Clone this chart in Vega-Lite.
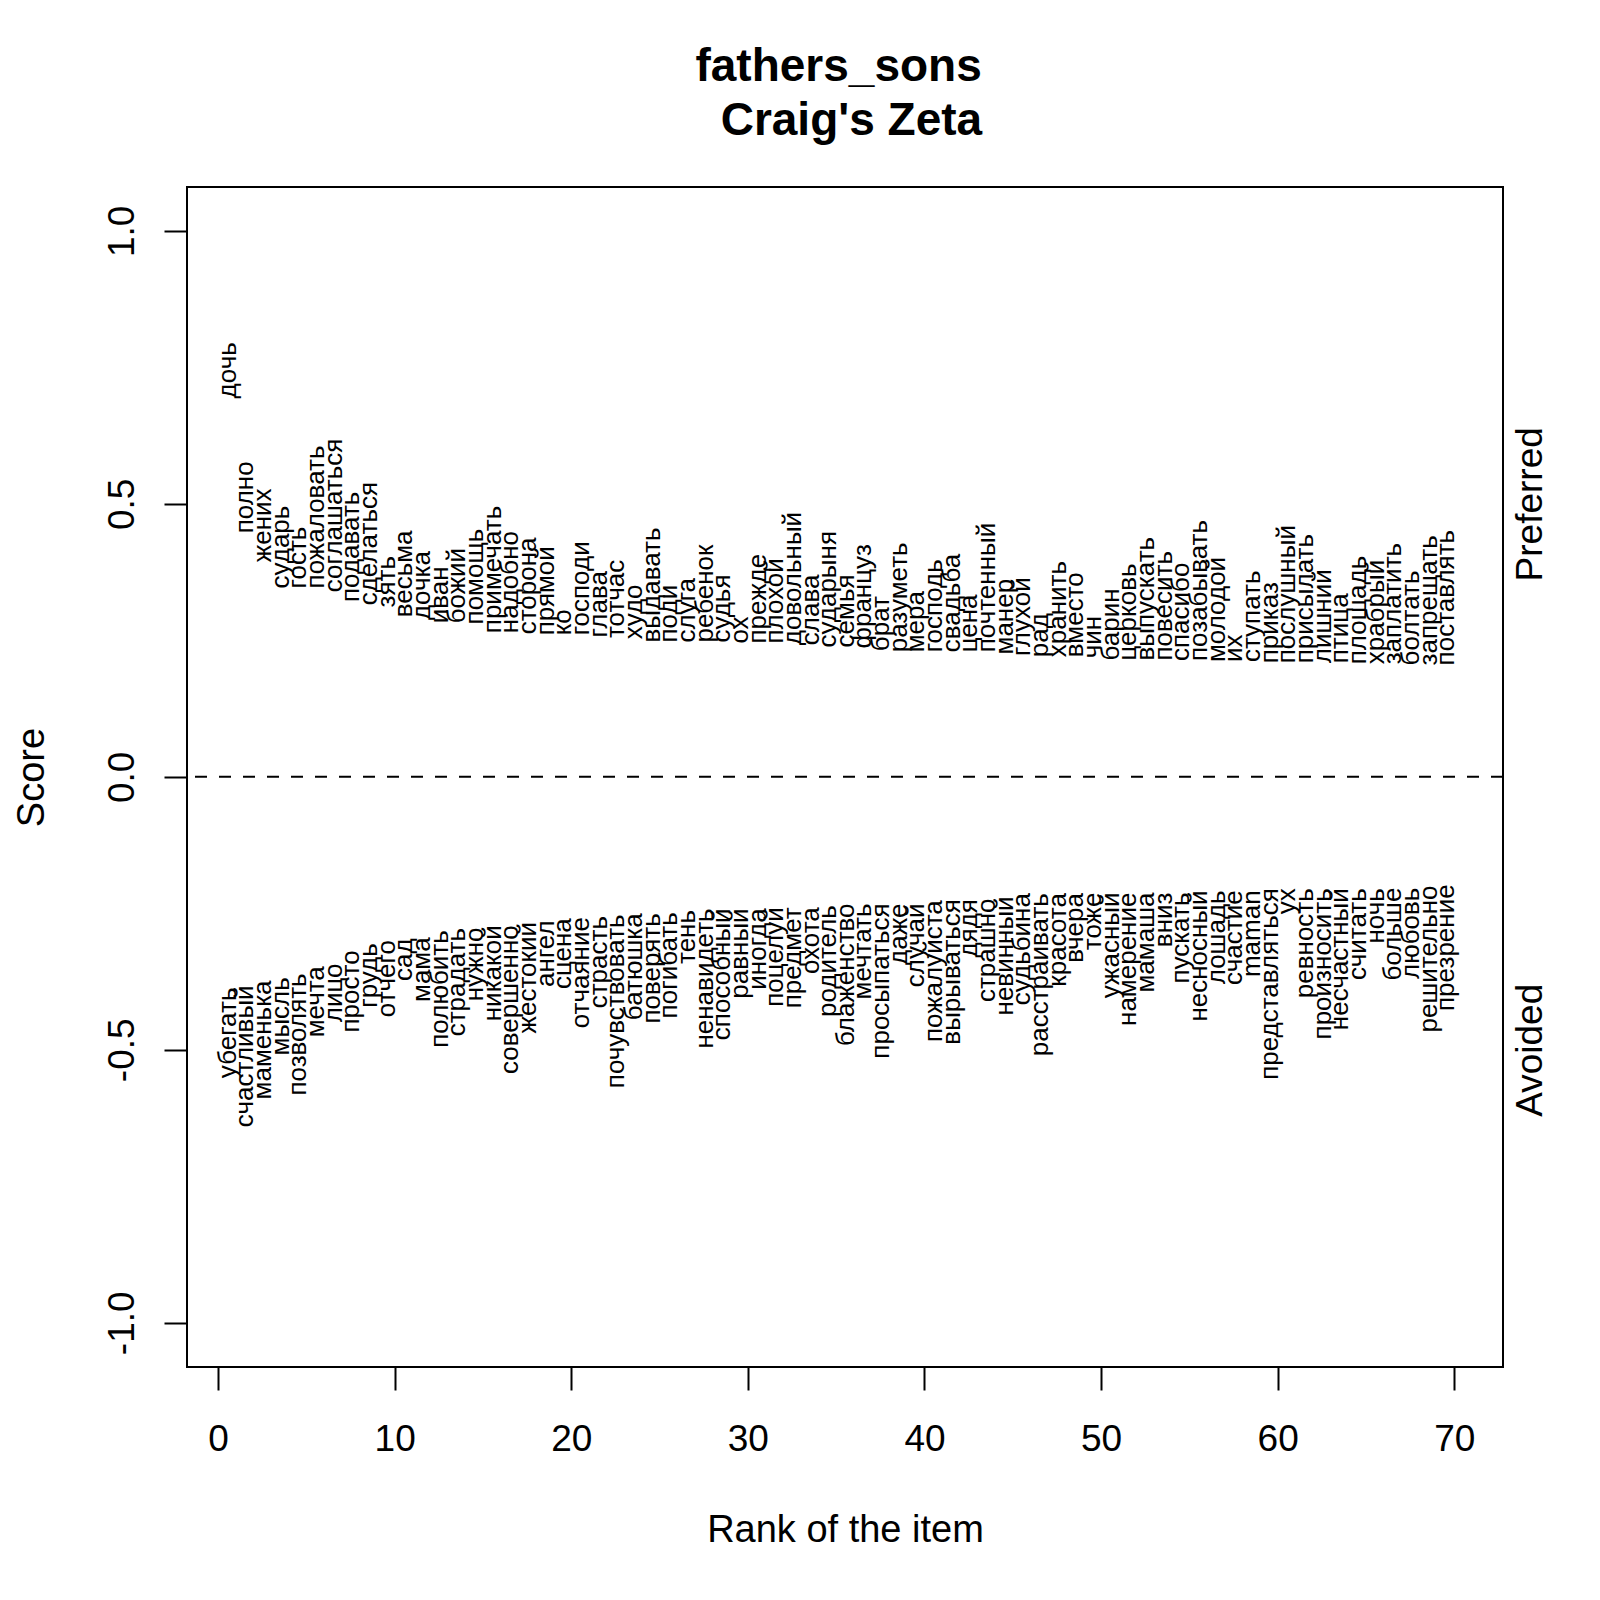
{
  "$schema": "https://vega.github.io/schema/vega-lite/v6.json",
  "autosize": {"type": "none"},
  "padding": {"left": 187, "top": 187, "right": 97, "bottom": 233},
  "width": 1316,
  "height": 1180,
  "background": "white",
  "title": {
    "text": ["fathers_sons \u200b", "\u200b Craig's Zeta"],
    "fontSize": 46,
    "fontWeight": "bold",
    "color": "black",
    "anchor": "middle",
    "frame": "group",
    "baseline": "bottom",
    "lineHeight": 54,
    "offset": 41,
    "dy": 45
  },
  "data": {
    "values": [
      {"rank": 1, "word": "дочь", "score": 0.693, "side": "Preferred"},
      {"rank": 2, "word": "полно", "score": 0.446, "side": "Preferred"},
      {"rank": 3, "word": "жених", "score": 0.393, "side": "Preferred"},
      {"rank": 4, "word": "сударь", "score": 0.345, "side": "Preferred"},
      {"rank": 5, "word": "гость", "score": 0.345, "side": "Preferred"},
      {"rank": 6, "word": "пожаловать", "score": 0.345, "side": "Preferred"},
      {"rank": 7, "word": "соглашаться", "score": 0.338, "side": "Preferred"},
      {"rank": 8, "word": "подавать", "score": 0.320, "side": "Preferred"},
      {"rank": 9, "word": "сделаться", "score": 0.314, "side": "Preferred"},
      {"rank": 10, "word": "зять", "score": 0.310, "side": "Preferred"},
      {"rank": 11, "word": "весьма", "score": 0.292, "side": "Preferred"},
      {"rank": 12, "word": "дочка", "score": 0.287, "side": "Preferred"},
      {"rank": 13, "word": "иван", "score": 0.281, "side": "Preferred"},
      {"rank": 14, "word": "божий", "score": 0.281, "side": "Preferred"},
      {"rank": 15, "word": "помощь", "score": 0.279, "side": "Preferred"},
      {"rank": 16, "word": "примечать", "score": 0.263, "side": "Preferred"},
      {"rank": 17, "word": "надобно", "score": 0.263, "side": "Preferred"},
      {"rank": 18, "word": "сторона", "score": 0.261, "side": "Preferred"},
      {"rank": 19, "word": "прямой", "score": 0.259, "side": "Preferred"},
      {"rank": 20, "word": "ко", "score": 0.259, "side": "Preferred"},
      {"rank": 21, "word": "господи", "score": 0.259, "side": "Preferred"},
      {"rank": 22, "word": "глава", "score": 0.255, "side": "Preferred"},
      {"rank": 23, "word": "тотчас", "score": 0.254, "side": "Preferred"},
      {"rank": 24, "word": "худо", "score": 0.252, "side": "Preferred"},
      {"rank": 25, "word": "выдавать", "score": 0.246, "side": "Preferred"},
      {"rank": 26, "word": "поди", "score": 0.246, "side": "Preferred"},
      {"rank": 27, "word": "слуга", "score": 0.246, "side": "Preferred"},
      {"rank": 28, "word": "ребенок", "score": 0.246, "side": "Preferred"},
      {"rank": 29, "word": "судья", "score": 0.246, "side": "Preferred"},
      {"rank": 30, "word": "ох", "score": 0.244, "side": "Preferred"},
      {"rank": 31, "word": "прежде", "score": 0.244, "side": "Preferred"},
      {"rank": 32, "word": "плохой", "score": 0.244, "side": "Preferred"},
      {"rank": 33, "word": "довольный", "score": 0.241, "side": "Preferred"},
      {"rank": 34, "word": "слава", "score": 0.241, "side": "Preferred"},
      {"rank": 35, "word": "сударыня", "score": 0.237, "side": "Preferred"},
      {"rank": 36, "word": "семья", "score": 0.237, "side": "Preferred"},
      {"rank": 37, "word": "француз", "score": 0.235, "side": "Preferred"},
      {"rank": 38, "word": "брат", "score": 0.230, "side": "Preferred"},
      {"rank": 39, "word": "разуметь", "score": 0.228, "side": "Preferred"},
      {"rank": 40, "word": "мера", "score": 0.228, "side": "Preferred"},
      {"rank": 41, "word": "господь", "score": 0.228, "side": "Preferred"},
      {"rank": 42, "word": "свадьба", "score": 0.228, "side": "Preferred"},
      {"rank": 43, "word": "цена", "score": 0.228, "side": "Preferred"},
      {"rank": 44, "word": "почтенный", "score": 0.228, "side": "Preferred"},
      {"rank": 45, "word": "манер", "score": 0.224, "side": "Preferred"},
      {"rank": 46, "word": "глухой", "score": 0.221, "side": "Preferred"},
      {"rank": 47, "word": "рад", "score": 0.219, "side": "Preferred"},
      {"rank": 48, "word": "хранить", "score": 0.219, "side": "Preferred"},
      {"rank": 49, "word": "вместо", "score": 0.219, "side": "Preferred"},
      {"rank": 50, "word": "чин", "score": 0.217, "side": "Preferred"},
      {"rank": 51, "word": "барин", "score": 0.213, "side": "Preferred"},
      {"rank": 52, "word": "церковь", "score": 0.213, "side": "Preferred"},
      {"rank": 53, "word": "выпускать", "score": 0.213, "side": "Preferred"},
      {"rank": 54, "word": "повесить", "score": 0.213, "side": "Preferred"},
      {"rank": 55, "word": "спасибо", "score": 0.212, "side": "Preferred"},
      {"rank": 56, "word": "позабывать", "score": 0.212, "side": "Preferred"},
      {"rank": 57, "word": "молодой", "score": 0.210, "side": "Preferred"},
      {"rank": 58, "word": "их", "score": 0.210, "side": "Preferred"},
      {"rank": 59, "word": "ступать", "score": 0.210, "side": "Preferred"},
      {"rank": 60, "word": "приказ", "score": 0.208, "side": "Preferred"},
      {"rank": 61, "word": "послушный", "score": 0.208, "side": "Preferred"},
      {"rank": 62, "word": "присылать", "score": 0.208, "side": "Preferred"},
      {"rank": 63, "word": "лишний", "score": 0.208, "side": "Preferred"},
      {"rank": 64, "word": "птица", "score": 0.208, "side": "Preferred"},
      {"rank": 65, "word": "площадь", "score": 0.206, "side": "Preferred"},
      {"rank": 66, "word": "храбрый", "score": 0.206, "side": "Preferred"},
      {"rank": 67, "word": "заплатить", "score": 0.206, "side": "Preferred"},
      {"rank": 68, "word": "болтать", "score": 0.204, "side": "Preferred"},
      {"rank": 69, "word": "запрещать", "score": 0.204, "side": "Preferred"},
      {"rank": 70, "word": "поставлять", "score": 0.204, "side": "Preferred"},
      {"rank": 1, "word": "убегать", "score": -0.386, "side": "Avoided"},
      {"rank": 2, "word": "счастливый", "score": -0.382, "side": "Avoided"},
      {"rank": 3, "word": "маменька", "score": -0.373, "side": "Avoided"},
      {"rank": 4, "word": "мысль", "score": -0.367, "side": "Avoided"},
      {"rank": 5, "word": "позволять", "score": -0.360, "side": "Avoided"},
      {"rank": 6, "word": "мечта", "score": -0.347, "side": "Avoided"},
      {"rank": 7, "word": "лицо", "score": -0.342, "side": "Avoided"},
      {"rank": 8, "word": "просто", "score": -0.318, "side": "Avoided"},
      {"rank": 9, "word": "грудь", "score": -0.305, "side": "Avoided"},
      {"rank": 10, "word": "отчего", "score": -0.299, "side": "Avoided"},
      {"rank": 11, "word": "сад", "score": -0.296, "side": "Avoided"},
      {"rank": 12, "word": "мама", "score": -0.294, "side": "Avoided"},
      {"rank": 13, "word": "полюбить", "score": -0.281, "side": "Avoided"},
      {"rank": 14, "word": "страдать", "score": -0.277, "side": "Avoided"},
      {"rank": 15, "word": "нужно", "score": -0.276, "side": "Avoided"},
      {"rank": 16, "word": "никакой", "score": -0.272, "side": "Avoided"},
      {"rank": 17, "word": "совершенно", "score": -0.272, "side": "Avoided"},
      {"rank": 18, "word": "жестокий", "score": -0.266, "side": "Avoided"},
      {"rank": 19, "word": "ангел", "score": -0.263, "side": "Avoided"},
      {"rank": 20, "word": "сцена", "score": -0.259, "side": "Avoided"},
      {"rank": 21, "word": "отчаяние", "score": -0.257, "side": "Avoided"},
      {"rank": 22, "word": "страсть", "score": -0.255, "side": "Avoided"},
      {"rank": 23, "word": "почувствовать", "score": -0.252, "side": "Avoided"},
      {"rank": 24, "word": "батюшка", "score": -0.250, "side": "Avoided"},
      {"rank": 25, "word": "поверять", "score": -0.250, "side": "Avoided"},
      {"rank": 26, "word": "погибать", "score": -0.248, "side": "Avoided"},
      {"rank": 27, "word": "тень", "score": -0.244, "side": "Avoided"},
      {"rank": 28, "word": "ненавидеть", "score": -0.241, "side": "Avoided"},
      {"rank": 29, "word": "способный", "score": -0.241, "side": "Avoided"},
      {"rank": 30, "word": "равный", "score": -0.241, "side": "Avoided"},
      {"rank": 31, "word": "иногда", "score": -0.241, "side": "Avoided"},
      {"rank": 32, "word": "поцелуй", "score": -0.239, "side": "Avoided"},
      {"rank": 33, "word": "предмет", "score": -0.239, "side": "Avoided"},
      {"rank": 34, "word": "охота", "score": -0.239, "side": "Avoided"},
      {"rank": 35, "word": "родитель", "score": -0.235, "side": "Avoided"},
      {"rank": 36, "word": "блаженство", "score": -0.232, "side": "Avoided"},
      {"rank": 37, "word": "мечтать", "score": -0.232, "side": "Avoided"},
      {"rank": 38, "word": "просыпаться", "score": -0.232, "side": "Avoided"},
      {"rank": 39, "word": "даже", "score": -0.232, "side": "Avoided"},
      {"rank": 40, "word": "случай", "score": -0.232, "side": "Avoided"},
      {"rank": 41, "word": "пожалуйста", "score": -0.226, "side": "Avoided"},
      {"rank": 42, "word": "вырываться", "score": -0.224, "side": "Avoided"},
      {"rank": 43, "word": "дядя", "score": -0.224, "side": "Avoided"},
      {"rank": 44, "word": "страшно", "score": -0.223, "side": "Avoided"},
      {"rank": 45, "word": "невинный", "score": -0.219, "side": "Avoided"},
      {"rank": 46, "word": "судьбина", "score": -0.213, "side": "Avoided"},
      {"rank": 47, "word": "расстраивать", "score": -0.213, "side": "Avoided"},
      {"rank": 48, "word": "красота", "score": -0.213, "side": "Avoided"},
      {"rank": 49, "word": "вчера", "score": -0.213, "side": "Avoided"},
      {"rank": 50, "word": "тоже", "score": -0.212, "side": "Avoided"},
      {"rank": 51, "word": "ужасный", "score": -0.212, "side": "Avoided"},
      {"rank": 52, "word": "намерение", "score": -0.212, "side": "Avoided"},
      {"rank": 53, "word": "мамаша", "score": -0.212, "side": "Avoided"},
      {"rank": 54, "word": "вниз", "score": -0.212, "side": "Avoided"},
      {"rank": 55, "word": "пускать", "score": -0.212, "side": "Avoided"},
      {"rank": 56, "word": "несносный", "score": -0.208, "side": "Avoided"},
      {"rank": 57, "word": "лошадь", "score": -0.208, "side": "Avoided"},
      {"rank": 58, "word": "счастие", "score": -0.208, "side": "Avoided"},
      {"rank": 59, "word": "maman", "score": -0.208, "side": "Avoided"},
      {"rank": 60, "word": "представляться", "score": -0.204, "side": "Avoided"},
      {"rank": 61, "word": "ух", "score": -0.204, "side": "Avoided"},
      {"rank": 62, "word": "ревность", "score": -0.204, "side": "Avoided"},
      {"rank": 63, "word": "произносить", "score": -0.204, "side": "Avoided"},
      {"rank": 64, "word": "несчастный", "score": -0.204, "side": "Avoided"},
      {"rank": 65, "word": "считать", "score": -0.204, "side": "Avoided"},
      {"rank": 66, "word": "ночь", "score": -0.204, "side": "Avoided"},
      {"rank": 67, "word": "больше", "score": -0.203, "side": "Avoided"},
      {"rank": 68, "word": "любовь", "score": -0.203, "side": "Avoided"},
      {"rank": 69, "word": "решительно", "score": -0.199, "side": "Avoided"},
      {"rank": 70, "word": "презрение", "score": -0.197, "side": "Avoided"}
    ]
  },
  "layer": [
    {
      "encoding": {
        "x": {
          "field": "rank",
          "type": "quantitative",
          "scale": {"domain": [-1.76, 72.76], "nice": false, "zero": false},
          "axis": {
            "title": "Rank of the item",
            "values": [0, 10, 20, 30, 40, 50, 60, 70],
            "domain": false,
            "grid": false,
            "tickSize": 23,
            "tickWidth": 2,
            "tickColor": "black",
            "labelFontSize": 37,
            "labelColor": "black",
            "labelPadding": 60,
            "labelBaseline": "alphabetic",
            "labelFlush": false,
            "labelOverlap": false,
            "titleFontSize": 38,
            "titleFontWeight": "normal",
            "titleColor": "black",
            "titleBaseline": "alphabetic",
            "titleY": 174
          }
        },
        "y": {
          "field": "score",
          "type": "quantitative",
          "scale": {"domain": [-1.081, 1.0802], "nice": false, "zero": false},
          "axis": {
            "title": "Score",
            "values": [-1, -0.5, 0, 0.5, 1],
            "labelExpr": "replace(format(datum.value, '.1f'), '\u2212', '-')",
            "domain": false,
            "grid": false,
            "tickSize": 23,
            "tickWidth": 2,
            "tickColor": "black",
            "labelFontSize": 37,
            "labelColor": "black",
            "labelAngle": 270,
            "labelAlign": "center",
            "labelBaseline": "alphabetic",
            "labelPadding": 31,
            "labelOverlap": false,
            "titleFontSize": 38,
            "titleFontWeight": "normal",
            "titleColor": "black",
            "titleAngle": 270,
            "titleAlign": "center",
            "titleBaseline": "alphabetic",
            "titleX": -144,
            "titleY": 590
          }
        },
        "text": {"field": "word", "type": "nominal"}
      },
      "layer": [
        {
          "transform": [{"filter": "datum.side === 'Preferred'"}],
          "mark": {"type": "text", "angle": 270, "align": "left", "baseline": "alphabetic", "fontSize": 26, "color": "black"}
        },
        {
          "transform": [{"filter": "datum.side === 'Avoided'"}],
          "mark": {"type": "text", "angle": 270, "align": "right", "baseline": "alphabetic", "fontSize": 26, "color": "black"}
        }
      ]
    },
    {
      "data": {"values": [{"score": 0}]},
      "mark": {"type": "rule", "color": "black", "strokeWidth": 2, "strokeDash": [12, 12]},
      "encoding": {
        "y": {
          "field": "score",
          "type": "quantitative",
          "scale": {"domain": [-1.081, 1.0802], "nice": false, "zero": false},
          "axis": {
            "orient": "right",
            "title": null,
            "values": [0.5, -0.5],
            "labelExpr": "datum.value > 0 ? 'Preferred' : 'Avoided'",
            "domain": false,
            "grid": false,
            "ticks": false,
            "tickSize": 0,
            "labelFontSize": 37,
            "labelColor": "black",
            "labelAngle": 270,
            "labelAlign": "center",
            "labelBaseline": "alphabetic",
            "labelPadding": 38,
            "labelOverlap": false
          }
        }
      }
    }
  ],
  "resolve": {"scale": {"y": "independent"}},
  "config": {
    "font": "Liberation Sans",
    "view": {"stroke": "black", "strokeWidth": 2}
  }
}
